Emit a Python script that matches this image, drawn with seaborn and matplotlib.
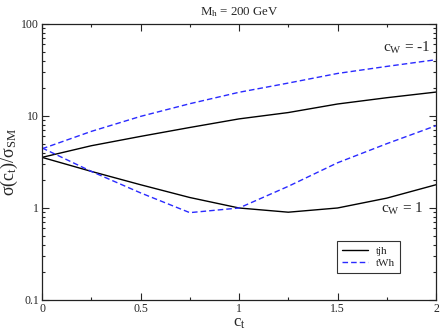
import matplotlib
matplotlib.use("Agg")
import matplotlib.pyplot as plt
import seaborn as sns
import pandas as pd
import numpy as np
from matplotlib.ticker import LogLocator, FixedLocator, NullFormatter, FuncFormatter
from matplotlib.lines import Line2D

ct = [0.0, 0.25, 0.5, 0.75, 1.0, 1.25, 1.5, 1.75, 2.0]
tjh_cw_m1 = [3.55, 4.75, 6.0, 7.5, 9.3, 10.9, 13.5, 15.8, 18.2]
twh_cw_m1 = [4.4, 6.8, 9.9, 13.6, 18.1, 22.8, 29.0, 34.6, 40.9]
tjh_cw_p1 = [3.55, 2.5, 1.79, 1.30, 1.0, 0.9, 1.0, 1.28, 1.79]
twh_cw_p1 = [4.5, 2.5, 1.46, 0.89, 1.0, 1.72, 3.1, 5.0, 7.85]

rows = []
for proc, cw, vals in [("tjh", "-1", tjh_cw_m1), ("tjh", "1", tjh_cw_p1),
                       ("tWh", "-1", twh_cw_m1), ("tWh", "1", twh_cw_p1)]:
    for x, v in zip(ct, vals):
        rows.append({"ct": x, "sigma": v, "process": proc, "cw": cw})
df = pd.DataFrame(rows)

sns.set_style("ticks")
plt.rcParams["font.family"] = ["Liberation Serif", "DejaVu Serif"]
plt.rcParams["mathtext.fontset"] = "custom"
plt.rcParams["mathtext.rm"] = "Liberation Serif"
plt.rcParams["mathtext.it"] = "Liberation Serif"
plt.rcParams["mathtext.bf"] = "Liberation Serif"

fig = plt.figure(figsize=(4.4, 3.31), dpi=100)
ax = fig.add_axes([0.0955, 0.0937, 0.8955, 0.8338])

blue = "#2a2aff"
palette = {"tjh": "black", "tWh": blue}
sns.lineplot(data=df, x="ct", y="sigma", hue="process", style="process",
             units="cw", estimator=None, palette=palette,
             dashes={"tjh": "", "tWh": (4, 2.2)}, lw=1.0, ax=ax, legend=False)

ax.set_yscale("log")
ax.set_xlim(0, 2)
ax.set_ylim(0.1, 100)

ax.xaxis.set_major_locator(FixedLocator([0, 0.5, 1, 1.5, 2]))
ax.xaxis.set_minor_locator(FixedLocator([0.25, 0.75, 1.25, 1.75]))
ax.xaxis.set_major_formatter(FuncFormatter(lambda v, p: "%g" % v))
ax.yaxis.set_major_locator(FixedLocator([0.1, 1, 10, 100]))
ax.yaxis.set_minor_locator(LogLocator(base=10, subs=np.arange(2, 10)))
ax.yaxis.set_minor_formatter(NullFormatter())
ax.yaxis.set_major_formatter(FuncFormatter(lambda v, p: "%g" % v))

ax.tick_params(which="both", direction="in", top=True, right=True,
               labelsize=8.5, width=0.8, pad=2)
ax.tick_params(which="major", length=5)
ax.tick_params(which="minor", length=2.5)
for s in ax.spines.values():
    s.set_linewidth(0.9)
    s.set_color("#222222")

ax.set_xlabel(r"$\mathrm{c_t}$", fontsize=12, labelpad=0)
ax.set_ylabel(r"$\mathrm{\sigma(c_t)/\sigma_{SM}}$", fontsize=13, labelpad=1)
ax.set_title(r"$\mathrm{M_h}$ = 200 GeV", fontsize=9.3, pad=6)

ax.text(0.985, 0.915, r"$\mathrm{c_W}$ = -1", transform=ax.transAxes,
        ha="right", va="center", fontsize=11)
ax.text(0.967, 0.33, r"$\mathrm{c_W}$ = 1", transform=ax.transAxes,
        ha="right", va="center", fontsize=11)

handles = [Line2D([], [], color="black", lw=1.0),
           Line2D([], [], color=blue, lw=1.0, ls=(0, (4, 2.2)))]
leg = ax.legend(handles, ["tjh", "tWh"], loc="upper left",
                bbox_to_anchor=(0.749, 0.214), borderaxespad=0,
                fontsize=8, frameon=True,
                fancybox=False, edgecolor="black", handlelength=2.3,
                borderpad=0.45, labelspacing=0.25, handletextpad=0.7)
leg.get_frame().set_linewidth(0.8)

fig.savefig("out.png", dpi=100)
